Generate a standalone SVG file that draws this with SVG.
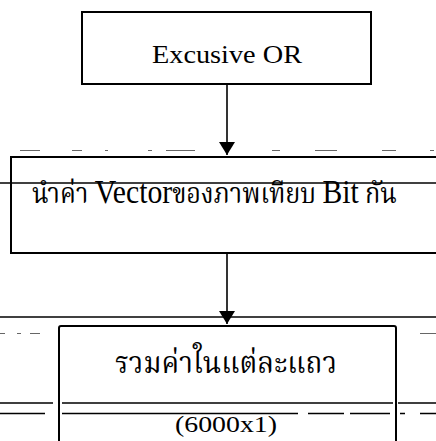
<svg xmlns="http://www.w3.org/2000/svg" width="436" height="441" viewBox="0 0 436 441">
<style>
.box{fill:#fff;stroke:#000;stroke-width:2}
.lat{font-family:"Liberation Serif","Times New Roman",serif;fill:#000}
.th{font-family:"Liberation Serif","Noto Serif Thai","Noto Sans Thai",serif;fill:#000}
.conn{stroke:#000;stroke-width:1.6;fill:none}
.rule{stroke:#000;stroke-width:1.3;fill:none}
.noise{stroke:#000;stroke-width:1;fill:none;opacity:0.6}
</style>
<defs>
<marker id="ah" viewBox="0 0 13 16" refX="13" refY="8" markerWidth="13" markerHeight="16" markerUnits="userSpaceOnUse" orient="auto">
<path d="M0,0 L13,8 L0,16 Z" fill="#000"/>
</marker>
</defs>
<rect width="436" height="441" fill="#fff"/>

<g id="noise">
<path class="noise" d="M20,150.5h20 M72,150.5h10 M105,150.5h3 M148,150.5h4 M166,150.5h29 M272,150.5h8 M315,150.5h22 M382,150.5h14 M430,150.5h4"/>
<path class="noise" d="M0,333.5h5 M17,333.5h4 M30,333.5h10 M72,333.5h12 M100,333.5h50 M180,333.5h5 M210,333.5h40 M270,333.5h45 M330,333.5h5 M370,333.5h22 M420,333.5h16"/>
</g>

<g id="node1">
<rect class="box" x="82" y="12" width="289" height="72"/>
<text class="lat" x="227" y="63" font-size="25" text-anchor="middle" textLength="150" lengthAdjust="spacingAndGlyphs">Excusive OR</text>
</g>

<g id="node2">
<rect class="box" x="11" y="157" width="440" height="96"/>
<line class="rule" x1="0" y1="183" x2="436" y2="183"/>
<text class="th" x="32" y="203" font-size="28" textLength="365" lengthAdjust="spacingAndGlyphs">นำค่า <tspan font-size="33">Vector</tspan>ของภาพเทียบ <tspan font-size="33">Bit</tspan> กัน</text>
</g>

<g id="node3">
<path class="rule" d="M0,317h436"/>
<rect class="box" x="59" y="326" width="337" height="130" rx="2"/>
<text class="th" x="226" y="373" font-size="30" text-anchor="middle" textLength="222" lengthAdjust="spacingAndGlyphs">รวมค่าในแต่ละแถว</text>
<path class="rule" d="M0,403h53 M62,403h331 M398,403h38"/>
<path class="rule" d="M0,413.5h45 M62,413.5h236 M308,413.5h36 M350,413.5h40 M400,413.5h5 M420,413.5h16"/>
<text class="lat" x="226" y="432" font-size="24" text-anchor="middle" textLength="102" lengthAdjust="spacingAndGlyphs">(6000x1)</text>
</g>

<g id="connectors">
<line class="conn" x1="227" y1="84" x2="227" y2="155" marker-end="url(#ah)"/>
<line class="conn" x1="227" y1="253" x2="227" y2="324" marker-end="url(#ah)"/>
</g>
</svg>
